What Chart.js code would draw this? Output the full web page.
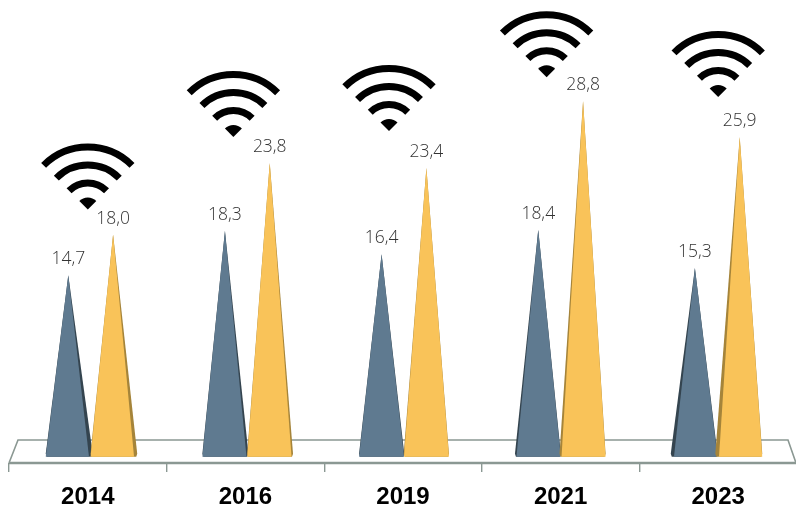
<!DOCTYPE html>
<html>
<head>
<meta charset="utf-8">
<style>
  html, body { margin: 0; padding: 0; background: #fff; overflow: hidden; }
  canvas { display: block; }
</style>
<script src="https://cdn.jsdelivr.net/npm/chart.js@4"></script>
</head>
<body>
<canvas id="chart" width="800" height="508"></canvas>
<script>
var categories = ["2014", "2016", "2019", "2021", "2023"];
var seriesBlue = [14.7, 18.3, 16.4, 18.4, 15.3];
var seriesYellow = [18.0, 23.8, 23.4, 28.8, 25.9];

// wifi icon placement: px from category centre, px above the taller spike
var wifiShiftX = [0, -12, -14, -14, 0];
var wifiLift = [25, 26, 37, 24, 40];

var BLUE = "#5f7a90", BLUE_SIDE = "#34444f";
var YELLOW = "#f9c359", YELLOW_SIDE = "#a5843a";
var FLOOR = "#8b9893";

function fmt(v) {
  return v.toFixed(1).replace(".", ",");
}

// spikes stand further back than the axis, so they spread a bit less
function depthX(x, mid) {
  return mid + (x - mid) * 0.994 + 1;
}

function drawWifi(ctx, x, tip) {
  var a = Math.PI / 4, up = -Math.PI / 2;
  ctx.save();
  ctx.fillStyle = "#000";
  ctx.beginPath();
  ctx.moveTo(x, tip);
  ctx.arc(x, tip, 12, up - a, up + a);
  ctx.closePath();
  ctx.fill();
  ctx.strokeStyle = "#000";
  ctx.lineWidth = 7;
  [26.5, 44.5, 62.5].forEach(function (r) {
    ctx.beginPath();
    ctx.arc(x, tip, r, up - a, up + a);
    ctx.stroke();
  });
  ctx.restore();
}

function drawSpike(ctx, bar, face, side, mid) {
  var half = bar.width / 2;
  var x = depthX(bar.x, mid);
  var lean = (mid - x) * 0.011;
  var l = x - half, r = x + half;
  var faceL = l, faceR = r, outL = l, outR = r;
  if (lean > 0) {
    faceR = r - lean / 2;
    outR = r + lean / 2;
  } else {
    faceL = l - lean / 2;
    outL = l + lean / 2;
  }
  // shaded side first, the face covers most of it
  ctx.fillStyle = side;
  ctx.beginPath();
  ctx.moveTo(x, bar.y);
  ctx.lineTo(outR, bar.base - 3);
  ctx.lineTo(outR - 1, bar.base);
  ctx.lineTo(outL + 1, bar.base);
  ctx.lineTo(outL, bar.base - 3);
  ctx.closePath();
  ctx.fill();
  ctx.fillStyle = face;
  ctx.beginPath();
  ctx.moveTo(x, bar.y);
  ctx.lineTo(lean > 0 ? faceR : r, bar.base);
  ctx.lineTo(lean < 0 ? faceL : l, bar.base);
  ctx.closePath();
  ctx.fill();
}

var spikes = {
  id: "spikes",
  beforeDatasetsDraw: function (chart) {
    var ctx = chart.ctx, area = chart.chartArea;
    var front = area.bottom, back = front - 23;
    var left = area.left, right = area.right - 1;
    // floor of the 3d plot
    ctx.save();
    ctx.strokeStyle = FLOOR;
    ctx.lineWidth = 1.6;
    ctx.beginPath();
    ctx.moveTo(left, front);
    ctx.lineTo(left + 9, back);
    ctx.lineTo(right - 8, back);
    ctx.lineTo(right, front);
    ctx.stroke();
    ctx.lineWidth = 2.4;
    ctx.beginPath();
    ctx.moveTo(left, front);
    ctx.lineTo(right, front);
    ctx.stroke();
    ctx.restore();
  },
  afterDatasetsDraw: function (chart) {
    var ctx = chart.ctx, area = chart.chartArea;
    var mid = (area.left + area.right) / 2;
    var metaBlue = chart.getDatasetMeta(0), metaYellow = chart.getDatasetMeta(1);
    ctx.save();
    categories.forEach(function (c, i) {
      drawSpike(ctx, metaBlue.data[i], BLUE, BLUE_SIDE, mid);
      drawSpike(ctx, metaYellow.data[i], YELLOW, YELLOW_SIDE, mid);
    });
    ctx.font = "300 17.5px 'Open Sans'";
    ctx.fillStyle = "#333";
    ctx.textAlign = "center";
    ctx.textBaseline = "alphabetic";
    categories.forEach(function (c, i) {
      var b = metaBlue.data[i], y = metaYellow.data[i];
      ctx.fillText(fmt(seriesBlue[i]), depthX(b.x, mid), b.y - 11);
      ctx.fillText(fmt(seriesYellow[i]), depthX(y.x, mid), y.y - 11);
      var centre = chart.scales.x.getPixelForValue(i);
      drawWifi(ctx, centre + wifiShiftX[i], y.y - wifiLift[i]);
    });
    ctx.restore();
  }
};

new Chart(document.getElementById("chart"), {
  type: "bar",
  data: {
    labels: categories,
    datasets: [
      { label: "A", data: seriesBlue, backgroundColor: "transparent", categoryPercentage: 0.572, barPercentage: 1 },
      { label: "B", data: seriesYellow, backgroundColor: "transparent", categoryPercentage: 0.572, barPercentage: 1 }
    ]
  },
  options: {
    responsive: false,
    animation: false,
    layout: { padding: { left: 9, right: 3, top: 0, bottom: 0 } },
    plugins: { legend: { display: false }, tooltip: { enabled: false } },
    scales: {
      x: {
        afterFit: function (scale) { scale.height = 45; },
        border: { display: false },
        grid: { drawOnChartArea: false, drawTicks: true, tickLength: 9, color: FLOOR, lineWidth: 1.4 },
        ticks: {
          color: "#000",
          padding: 11,
          maxRotation: 0,
          font: { family: "'Liberation Sans'", weight: "bold", size: 24 }
        }
      },
      y: { display: false, min: -0.5, max: 37 }
    }
  },
  plugins: [spikes]
});
</script>
</body>
</html>
